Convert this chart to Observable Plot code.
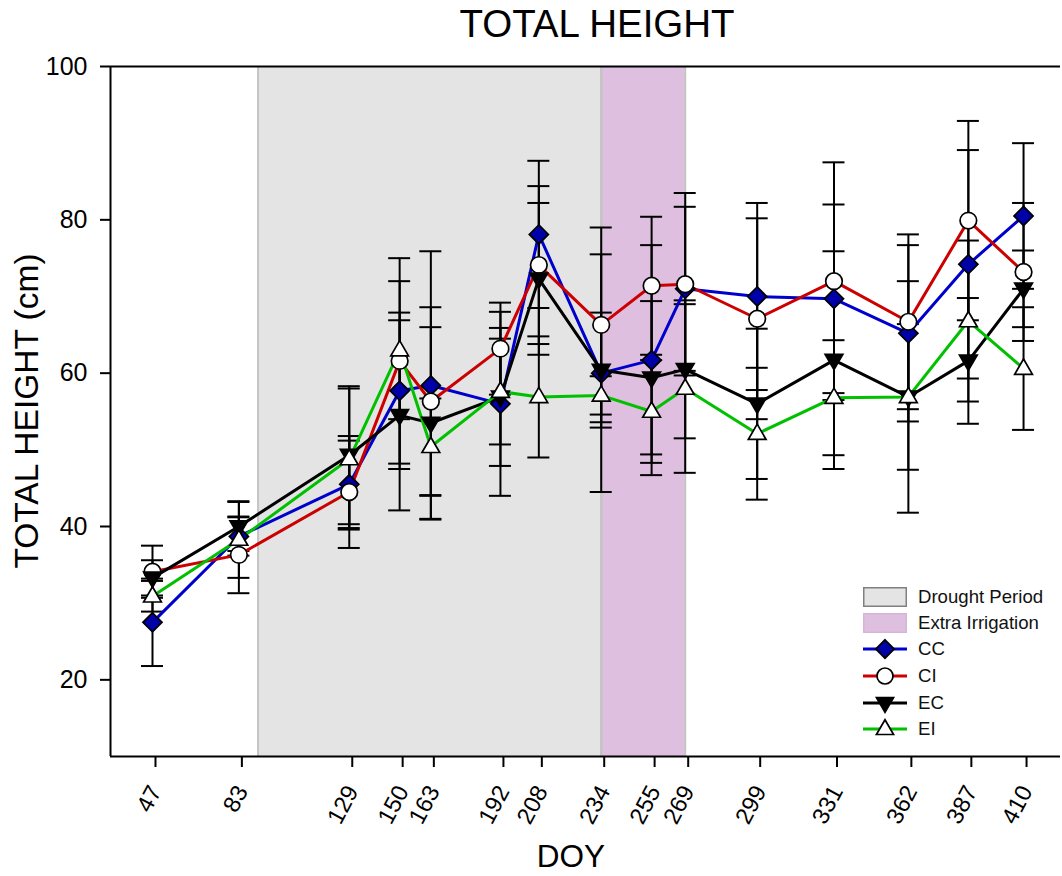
<!DOCTYPE html>
<html>
<head>
<meta charset="utf-8">
<script src="https://cdn.jsdelivr.net/npm/d3@7"></script>
<script src="https://cdn.jsdelivr.net/npm/@observablehq/plot@0.6"></script>
<style>
  body { margin: 0; background: #fff; font-family: "Liberation Sans", Arial, sans-serif; }
  #wrap { position: relative; width: 1062px; height: 876px; overflow: hidden; background: #fff; }
  .lbl { position: absolute; white-space: nowrap; line-height: 1; color: #000; }
  .leg { position: absolute; left: 863px; height: 20px; display: flex; align-items: center; }
  .leg span { position: absolute; left: 55px; font-size: 18.6px; line-height: 1; white-space: nowrap; color: #111; }
</style>
</head>
<body>
<div id="wrap"></div>
<script>
// ---------------- data ----------------
const doy = [47, 83, 129, 150, 163, 192, 208, 234, 255, 269, 299, 331, 362, 387, 410];

const ccMean = [27.5, 38.7, 45.5, 57.7, 58.4, 56.0, 78.1, 60.0, 61.7, 71.0, 70.0, 69.7, 65.2, 74.2, 80.5];
const ccSE   = [5.7, 2.5, 5.7, 10.2, 17.5, 12.0, 9.6, 15.5, 15.0, 10.7, 12.2, 12.3, 11.5, 14.9, 9.5];

const ciMean = [34.1, 36.3, 44.5, 61.6, 56.3, 63.2, 74.1, 66.3, 71.4, 71.6, 67.1, 72.0, 66.7, 79.9, 73.2];
const ciSE   = [3.4, 5.0, 7.3, 13.4, 12.3, 6.0, 10.3, 12.7, 9.0, 11.9, 13.1, 15.5, 11.4, 13.0, 9.0];

const ecMean = [33.3, 40.0, 49.3, 54.5, 53.5, 56.9, 72.3, 60.4, 59.4, 60.5, 56.0, 61.7, 56.9, 61.6, 71.0];
const ecSE   = [2.3, 3.2, 9.0, 12.4, 12.5, 9.0, 9.9, 7.5, 10.0, 9.0, 9.8, 14.2, 15.1, 8.2, 5.0];

const eiMean = [30.9, 38.3, 48.8, 63.0, 50.4, 57.6, 56.9, 57.1, 55.0, 58.0, 52.1, 56.8, 56.9, 66.8, 60.6];
const eiSE   = [2.0, 5.0, 9.2, 9.0, 6.3, 6.9, 7.9, 2.5, 6.7, 11.0, 8.6, 7.5, 9.5, 10.5, 8.0];

const seriesNames = ["CC", "CI", "EC", "EI"];
const periodNames = ["Drought Period", "Extra Irrigation"];
const periodStart = [91, 234];
const periodEnd   = [234, 269];

const yTicks = [20, 40, 60, 80, 100];
const xDomain = [29.5, 425.4];
const yDomain = [10, 100];

const titleText = "TOTAL HEIGHT";
const yLabelText = "TOTAL HEIGHT (cm)";
const xLabelText = "DOY";

// ---------------- symbols ----------------
const diamondSym = { draw(ctx, size) { const r = Math.sqrt(size / Math.PI) * 1.15;
  ctx.moveTo(0, -r); ctx.lineTo(r, 0); ctx.lineTo(0, r); ctx.lineTo(-r, 0); ctx.closePath(); } };
const circleSym = { draw(ctx, size) { const r = Math.sqrt(size / Math.PI);
  ctx.moveTo(r, 0); ctx.arc(0, 0, r, 0, 2 * Math.PI); ctx.closePath(); } };
const triUpSym = { draw(ctx, size) { const k = Math.sqrt(size / Math.PI) * 1.15;
  ctx.moveTo(0, -k); ctx.lineTo(k * 0.93, k * 0.6); ctx.lineTo(-k * 0.93, k * 0.6); ctx.closePath(); } };
const triDownSym = { draw(ctx, size) { const k = Math.sqrt(size / Math.PI) * 1.15;
  ctx.moveTo(0, k); ctx.lineTo(k * 0.93, -k * 0.6); ctx.lineTo(-k * 0.93, -k * 0.6); ctx.closePath(); } };

const styles = {
  CC: { line: "#0000cc", fill: "#0000a8", sym: diamondSym },
  CI: { line: "#cc0000", fill: "#ffffff", sym: circleSym },
  EC: { line: "#000000", fill: "#000000", sym: triDownSym },
  EI: { line: "#00c000", fill: "#ffffff", sym: triUpSym }
};

// ---------------- table ----------------
const means = { CC: ccMean, CI: ciMean, EC: ecMean, EI: eiMean };
const ses = { CC: ccSE, CI: ciSE, EC: ecSE, EI: eiSE };
const rows = seriesNames.flatMap(s => doy.map((d, i) => ({
  series: s, doy: d, mean: means[s][i], lo: means[s][i] - ses[s][i], hi: means[s][i] + ses[s][i]
})));
const periods = periodNames.map((n, i) => ({ name: n, start: periodStart[i], end: periodEnd[i] }));
const periodFill = { "Drought Period": "#e4e4e4", "Extra Irrigation": "#dfbfdf" };

// ---------------- plot ----------------
const marks = [
  Plot.rect(periods, { x1: "start", x2: "end", fill: d => periodFill[d.name] }),
  Plot.ruleX(periods.map(p => p.start).concat(periods.map(p => p.end)), { stroke: "#c4c4c4", strokeWidth: 2 }),
  Plot.ruleX(rows, { x: "doy", y1: "lo", y2: "hi", stroke: "#000", strokeWidth: 2 }),
  Plot.ruleY(rows, { x1: "doy", x2: "doy", y: "lo", insetLeft: -11, insetRight: -11, stroke: "#000", strokeWidth: 2 }),
  Plot.ruleY(rows, { x1: "doy", x2: "doy", y: "hi", insetLeft: -11, insetRight: -11, stroke: "#000", strokeWidth: 2 })
];
for (const s of seriesNames) {
  marks.push(Plot.line(rows.filter(r => r.series === s), { x: "doy", y: "mean", stroke: styles[s].line, strokeWidth: 3 }));
}
for (const s of seriesNames) {
  marks.push(Plot.dot(rows.filter(r => r.series === s), {
    x: "doy", y: "mean", r: 8.3, symbol: styles[s].sym, fill: styles[s].fill, stroke: "#000", strokeWidth: 1.7
  }));
}
marks.push(
  Plot.ruleY([yDomain[1]], { stroke: "#000", strokeWidth: 2 }),
  Plot.ruleY([yDomain[0]], { stroke: "#000", strokeWidth: 2 }),
  Plot.ruleX([xDomain[0]], { stroke: "#000", strokeWidth: 2 }),
  Plot.axisY({ ticks: yTicks, tickSize: 10, tickPadding: 13, fontSize: 25, label: null, strokeWidth: 2 }),
  Plot.axisX({ ticks: doy, tickSize: 11, tickPadding: 20, fontSize: 23.5, label: null, tickRotate: -62,
               textAnchor: "end", lineAnchor: "middle", strokeWidth: 2, dx: 3, tickFormat: d => String(d) })
);

const svg = Plot.plot({
  width: 1062, height: 828,
  marginLeft: 110, marginRight: 2, marginTop: 18, marginBottom: 120,
  x: { domain: xDomain, label: null },
  y: { domain: yDomain, label: null },
  style: { fontFamily: "'Liberation Sans', Arial, sans-serif", color: "#000", background: "transparent", overflow: "visible" },
  marks
});
svg.style.position = "absolute";
svg.style.left = "0px";
svg.style.top = "48px";

const wrap = document.getElementById("wrap");
wrap.appendChild(svg);

function addLabel(text, x, y, size, rotate) {
  const d = document.createElement("div");
  d.className = "lbl";
  d.textContent = text;
  d.style.left = x + "px";
  d.style.top = y + "px";
  d.style.fontSize = size + "px";
  d.style.transform = `translate(-50%, -50%)` + (rotate ? ` rotate(${rotate}deg)` : "");
  wrap.appendChild(d);
}
addLabel(titleText, 597, 24, 38.5, 0);
addLabel(yLabelText, 27, 411, 33.5, -90);
addLabel(xLabelText, 571, 857, 31.5, 0);

// ---------------- legend ----------------
const legendTop = [597, 623, 649, 676, 703, 729];
periods.forEach((p, i) => {
  const d = document.createElement("div");
  d.className = "leg";
  d.style.top = (legendTop[i] - 10) + "px";
  d.innerHTML = `<svg width="44" height="20"><rect x="0.75" y="0.75" width="42.5" height="18.5" fill="${periodFill[p.name]}" stroke="${i === 0 ? '#808080' : '#d6b6d6'}" stroke-width="1.5"/></svg><span>${p.name}</span>`;
  wrap.appendChild(d);
});
seriesNames.forEach((s, i) => {
  const st = styles[s];
  const path = d3.path();
  st.sym.draw(path, Math.PI * 64);
  const d = document.createElement("div");
  d.className = "leg";
  d.style.top = (legendTop[i + 2] - 10) + "px";
  d.innerHTML = `<svg width="44" height="20" style="overflow:visible"><line x1="0" x2="44" y1="10" y2="10" stroke="${st.line}" stroke-width="3"/><path transform="translate(22,10)" d="${path.toString()}" fill="${st.fill}" stroke="#000" stroke-width="1.7"/></svg><span>${s}</span>`;
  wrap.appendChild(d);
});
</script>
</body>
</html>
